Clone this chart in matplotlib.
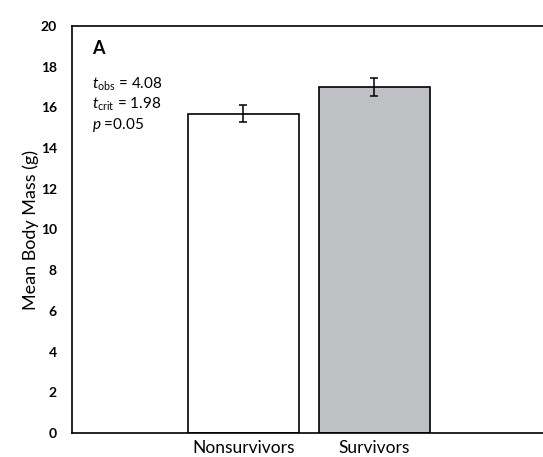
import matplotlib
matplotlib.use("Agg")
import matplotlib.pyplot as plt

# values
groups = ["Nonsurvivors", "Survivors"]
mean_mass = [15.7, 17.0]
err = [0.4, 0.46]
bar_colors = ["white", "#bfc0c4"]
y_ticks = [0, 2, 4, 6, 8, 10, 12, 14, 16, 18, 20]

plt.rcParams['font.family'] = ['Lato', 'DejaVu Sans']
plt.rcParams['mathtext.fontset'] = 'custom'
plt.rcParams['mathtext.rm'] = 'Lato'
plt.rcParams['mathtext.it'] = 'Lato:italic'

fig = plt.figure(figsize=(5.43, 4.57), dpi=100)
ax = fig.add_axes([72/543, 24/457, 471/543, 407/457])

pos = list(range(len(groups)))
ax.bar(pos, mean_mass, width=0.85, color=bar_colors, edgecolor="black",
       linewidth=1.2, yerr=err, capsize=3,
       error_kw=dict(ecolor="black", elinewidth=1.1, capthick=1.1))

ax.set_xlim(-1.311, 2.29)
ax.set_ylim(0, 20)
ax.set_yticks(y_ticks)
ax.set_yticklabels([str(v) for v in y_ticks], fontsize=10, fontweight="bold")
ax.set_xticks(pos)
ax.set_xticklabels(groups, fontsize=12.5)
ax.tick_params(axis="x", length=0, pad=5)
ax.tick_params(axis="y", length=0, pad=11)
ax.set_ylabel("Mean Body Mass (g)", fontsize=13, labelpad=1)

ax.spines["right"].set_visible(False)
for s in ["left", "top", "bottom"]:
    ax.spines[s].set_linewidth(1.2)

ax.text(0.042, 0.93, "A", transform=ax.transAxes, fontsize=13,
        fontweight="bold", va="baseline")
ax.text(0.042, 0.845, r"$t_{\mathrm{obs}}$ = 4.08", transform=ax.transAxes,
        fontsize=11, va="baseline")
ax.text(0.042, 0.796, r"$t_{\mathrm{crit}}$ = 1.98", transform=ax.transAxes,
        fontsize=11, va="baseline")
ax.text(0.042, 0.747, r"$p$ =0.05", transform=ax.transAxes,
        fontsize=11, va="baseline")

fig.savefig("out.png", dpi=100)
